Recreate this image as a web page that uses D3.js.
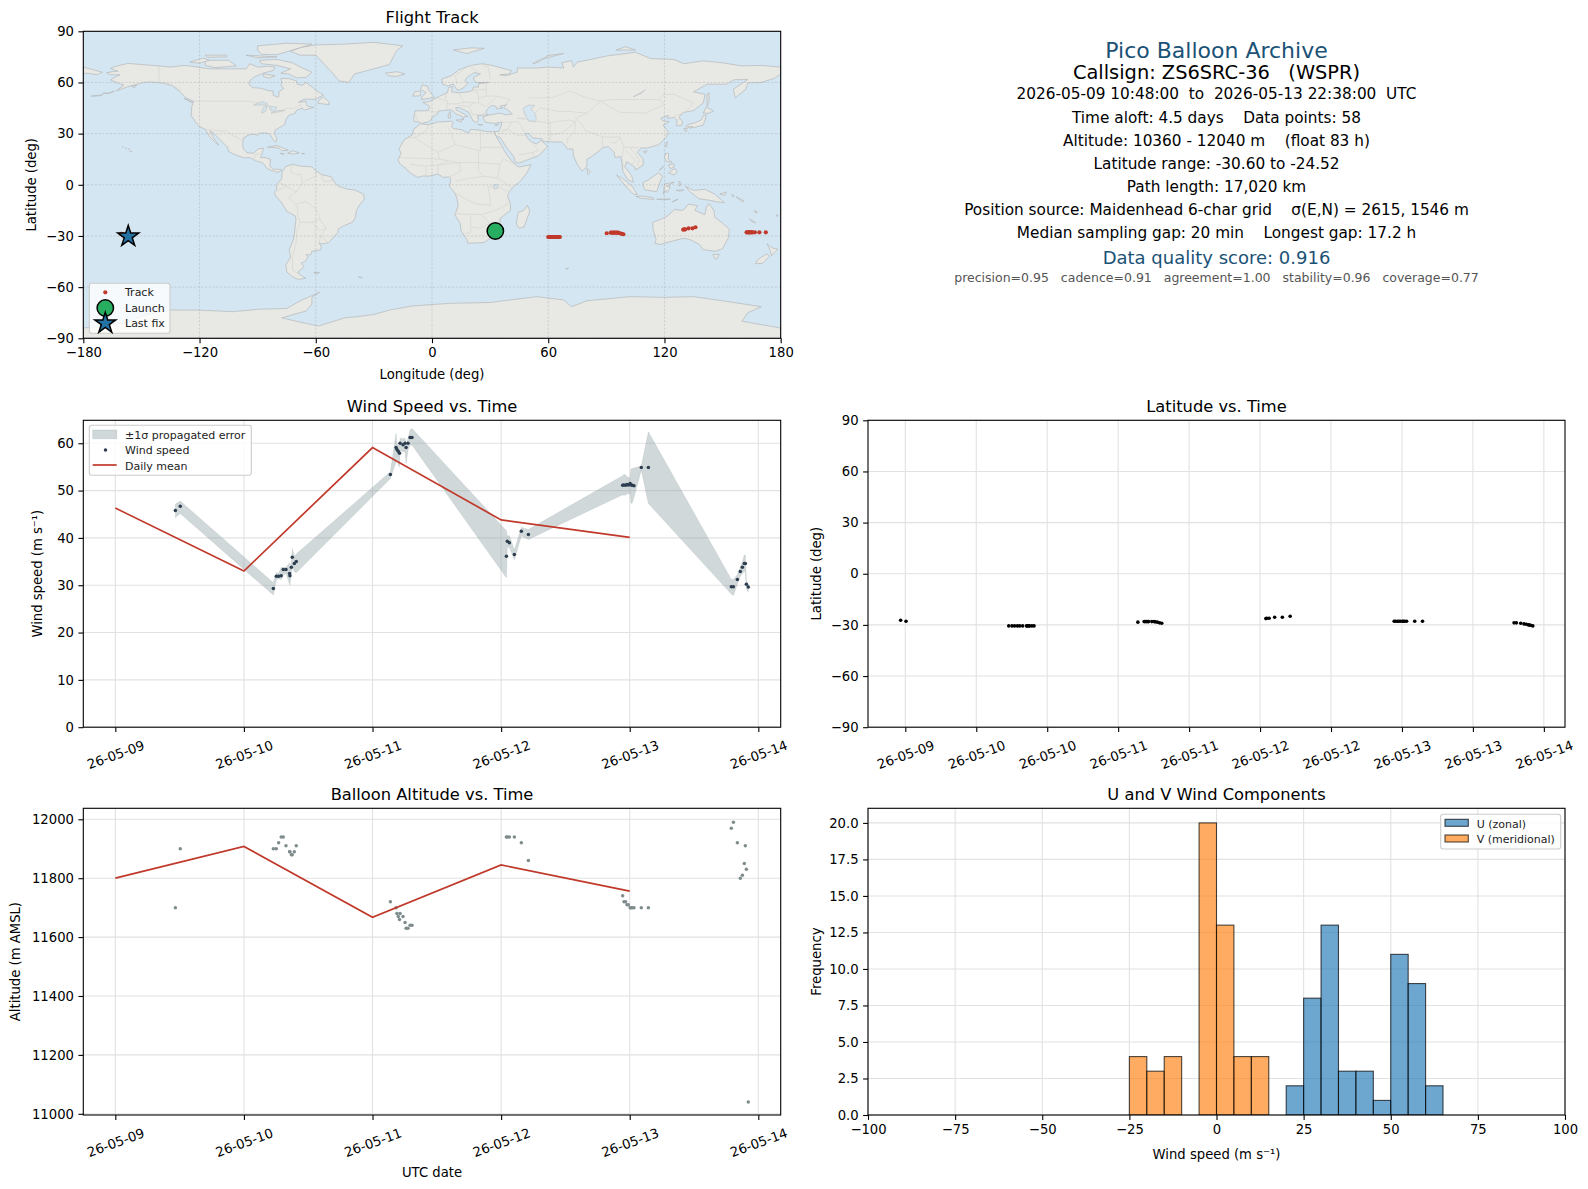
<!DOCTYPE html>
<html><head><meta charset="utf-8">
<script src="https://cdnjs.cloudflare.com/ajax/libs/d3/7.8.5/d3.min.js"></script>
<style>html,body{margin:0;padding:0;background:#fff}svg{display:block;font-family:"DejaVu Sans",sans-serif}</style>
</head><body><svg id="c" width="1588" height="1189"></svg>
<script>
// ---------- time (days since 26-05-09 00:00 UTC) ----------
const times=[0.467,0.505,
1.229,1.252,1.27,1.29,1.306,1.327,1.355,1.358,1.369,1.376,1.392,1.407,
2.139,2.183,2.19,2.2,2.21,2.214,2.237,2.253,2.261,2.276,2.292,2.307,
3.041,3.048,3.064,3.103,3.157,3.212,
3.945,3.955,3.968,3.979,3.989,4.003,4.01,4.02,4.033,4.09,4.145,
4.79,4.806,4.837,4.86,4.876,4.891,4.899,4.907,4.922];
const windSpeed=[45.8,46.7,
29.3,31.9,31.9,32.0,33.3,33.3,32.5,32.0,33.8,35.9,34.6,35.0,
53.4,59.1,58.7,58.3,57.9,60.0,59.7,60.0,59.1,60.0,61.2,61.2,
36.1,39.3,39.0,36.5,41.4,40.7,
51.1,51.2,51.1,51.3,51.2,51.5,51.2,51.1,51.0,54.9,54.9,
29.7,29.7,31.2,32.9,33.8,34.6,34.6,30.2,29.6];
const windUpper=[47.15,47.78,
30.52,32.63,32.49,33.76,33.76,33.76,34.75,33.19,34.96,37.78,36.15,36.58,
53.98,62.09,59.97,59.62,59.27,61.03,61.03,61.03,59.97,61.03,62.79,63.14,
41.51,40.38,40.52,37.42,42.22,41.79,
53.14,53.42,53.28,52.93,52.79,52.57,54.55,54.69,54.76,55.18,62.44,
31.22,31.22,32.21,33.9,34.96,36.37,36.37,30.94,30.23];
const windLower=[44.33,45.17,
27.91,31.08,31.36,31.22,32.14,32.49,30.16,30.02,32.49,33.9,32.84,32.63,
52.57,56.1,57.5,55.39,55.04,58.42,58.21,58.21,55.74,58.56,59.62,59.62,
31.57,38.0,38.0,35.31,40.38,39.68,
49.12,48.98,49.12,49.26,49.4,49.26,47.29,47.43,48.56,54.34,47.29,
28.12,27.84,30.23,31.93,32.49,32.91,32.91,29.32,28.54];
const meanDays=[0,1,2,3,4];
const windMean=[46.3,33.0,59.1,43.8,40.1];
const altitude=[11700,11900,
11900,11900,11920,11940,11940,11910,11890,11890,11880,11880,11890,11910,
11720,11700,11680,11670,11660,11680,11670,11650,11630,11630,11640,11640,
11940,11940,11940,11940,11920,11860,
11740,11720,11720,11710,11710,11700,11700,11700,11700,11700,11700,
11970,11990,11920,11800,11810,11850,11910,11830,11040];
const altMean=[11800,11908,11667,11845,11756];
const latitude=[-27.3,-27.85,
-30.6,-30.6,-30.6,-30.6,-30.6,-30.6,-30.6,-30.6,-30.6,-30.6,-30.6,-30.6,
-28.4,-28.05,-28.05,-28.05,-28.05,-28.05,-28.05,-28.05,-28.2,-28.4,-28.8,-29.0,
-26.3,-26.1,-26.1,-25.5,-25.5,-24.9,
-27.85,-27.85,-27.85,-27.85,-27.85,-27.85,-27.85,-27.85,-27.85,-27.85,-27.85,
-28.8,-28.8,-29.0,-29.4,-29.6,-30.0,-30.1,-30.2,-30.6];
const longitude=[32.7,34,
60,60.6,61.1,61.7,62.2,62.8,63.3,63.9,64.4,64.9,65.5,66,
90.2,92.3,92.9,93.5,94,94.6,95.2,95.8,96.4,97,98,98.8,
129.7,130.2,130.8,132.5,134.5,136,
162.4,162.8,163.2,163.7,164.1,164.6,165,165.5,166.7,169,172.3,
-160.5,-160.2,-159.9,-159.6,-159.1,-158.6,-158.2,-157.6,-156.8];
const launchFix=[32.7,-27.1];
const lastFix=[-156.8,-30.3];

// ---------- histogram ----------
const uEdges=[20,25,30,35,40,45,50,55,60,65];
const uCounts=[2,8,13,3,3,1,11,9,2];
const vEdges=[-25,-20,-15,-10,-5,0,5,10,15];
const vCounts=[4,3,4,0,20,13,4,4];

// ---------- tick labels ----------
const lonTicks=[-180,-120,-60,0,60,120,180];
const latTicksMap=[-90,-60,-30,0,30,60,90];
const dayTicks=[0,1,2,3,4,5];
const dayLabels=["26-05-09","26-05-10","26-05-11","26-05-12","26-05-13","26-05-14"];
const halfDayTicks=[0.5,1,1.5,2,2.5,3,3.5,4,4.5,5];
const halfDayLabels=["26-05-09","26-05-10","26-05-10","26-05-11","26-05-11","26-05-12","26-05-12","26-05-13","26-05-13","26-05-14"];
const windTicks=[0,10,20,30,40,50,60];
const altTicks=[11000,11200,11400,11600,11800,12000];
const histXTicks=[-100,-75,-50,-25,0,25,50,75,100];
const histYTicks=[0,2.5,5,7.5,10,12.5,15,17.5,20];

// ---------- text ----------
const infoLines=[
 ["Pico Balloon Archive",22,"#1a5276",50.6],
 ["Callsign: ZS6SRC-36   (WSPR)",19.4,"#000",72.9],
 ["2026-05-09 10:48:00  to  2026-05-13 22:38:00  UTC",15.3,"#000",94.2],
 ["Time aloft: 4.5 days    Data points: 58",15.3,"#000",117.5],
 ["Altitude: 10360 - 12040 m    (float 83 h)",15.3,"#000",140.8],
 ["Latitude range: -30.60 to -24.52",15.3,"#000",163.6],
 ["Path length: 17,020 km",15.3,"#000",186.6],
 ["Position source: Maidenhead 6-char grid    σ(E,N) = 2615, 1546 m",15.3,"#000",209.6],
 ["Median sampling gap: 20 min    Longest gap: 17.2 h",15.3,"#000",232.8],
 ["Data quality score: 0.916",18,"#1a5276",257],
 ["precision=0.95   cadence=0.91   agreement=1.00   stability=0.96   coverage=0.77",12.5,"#555",277.5]
];

// ---------- world outline (lon, lat) ----------
const landPolys=[
[[-168,65.7],[-164,66.5],[-162,66.5],[-166,68.3],[-163,69.5],[-157,71.2],[-150,70.5],[-141,69.7],[-135,69],[-128,70],[-124,69.5],[-115,68],[-108,68],[-100,68],[-96,68],[-94,71],[-90,69],[-85,69.5],[-81,69],[-82,67],[-87,65.5],[-92,63],[-94,61],[-94.5,59],[-92.5,57],[-88,56.5],[-85,55.3],[-82,55],[-82,52.5],[-79.5,51.3],[-79,52],[-79,54.5],[-76.5,56.5],[-78,58.5],[-77.5,60],[-78,62.4],[-74,62.3],[-70,61],[-69.5,59],[-67,58.3],[-65,60],[-62,57.5],[-60,55.5],[-56,52.7],[-60,50.2],[-66,50.2],[-69,48.3],[-65,49],[-65,47],[-64,46],[-61,45.5],[-66,43.7],[-67,45],[-70,43.7],[-70.5,42],[-74,40.7],[-75.5,38],[-76,35.5],[-78,34],[-81,32],[-81.3,30],[-80,26.8],[-80.5,25.2],[-81.8,26],[-82.8,28],[-84,30],[-86,30.4],[-89,30.3],[-90,29.2],[-93,29.7],[-95,29],[-97.3,27.5],[-97.7,24],[-97.5,21.5],[-95.5,18.8],[-92,18.5],[-90.7,20],[-90,21],[-87,21.5],[-87.7,18.5],[-88.5,16],[-86,15.9],[-83.3,15],[-83.7,11],[-82,9],[-80,9.2],[-77.5,8.7],[-78.5,7.8],[-80,7.3],[-81.5,8],[-83,8.3],[-85.5,10],[-87.5,13],[-91,14],[-94,16],[-97,15.8],[-101,17.3],[-105,19.5],[-105.5,22],[-109,26],[-112.5,30],[-114.7,31.7],[-113,28],[-110,23.2],[-112,25],[-115,28.5],[-117,32.5],[-120.5,34.5],[-122.5,37.5],[-124.3,40.5],[-124,46],[-123,49],[-127,51],[-130,54.5],[-134,58],[-138,59.5],[-145,60.3],[-149,60],[-152,59],[-157,57.5],[-163,55],[-159,58.5],[-162,59.5],[-166,61.5],[-163,63.5],[-161,64.5],[-166,64.5]],
[[-73,78.2],[-68,76],[-60,76],[-55,70],[-51,65],[-48,61],[-43,60],[-40,65],[-30,68],[-22,70.5],[-20,75],[-18,79],[-15,81.5],[-30,83.5],[-45,82.5],[-60,82],[-68,80.5]],
[[-80,73.5],[-72,71.5],[-66,68],[-62,66],[-65,63],[-70,62.7],[-74,65],[-78,65.5],[-73,68],[-80,70],[-88,71],[-89,73]],
[[-117,73],[-105,73],[-101,69.7],[-112,68.7],[-117,70]],
[[-88,76.5],[-80,76.3],[-72,79],[-62,82.5],[-75,83],[-90,81.5],[-90,79]],
[[-125,72],[-118,74.3],[-115,73],[-120,71.3]],
[[-96,76],[-80,75],[-90,74.5]],
[[-117,76],[-106,76],[-106,75],[-116,74.8]],
[[-87,65],[-81,64],[-84,62.5],[-87,63.5]],
[[-59,47.8],[-53,47],[-53.5,49],[-56,51.5],[-58,50]],
[[-128,50.7],[-123.5,48.4],[-125,48.7]],
[[-85,22],[-80,23],[-74.2,20.3],[-77.5,19.9],[-79,21.5],[-83,22]],
[[-74.5,18.5],[-72,20],[-68.5,18.7],[-71,18]],
[[-78.3,18.4],[-76.3,18.2],[-77,17.8]],
[[-67.2,18.4],[-65.7,18.3],[-66,18]],
[[-156,19.6],[-155,19.6],[-155.6,19.1]],
[[-158.2,21.6],[-157.7,21.4],[-158,21.3]],
[[-159.8,22.2],[-159.3,22.1],[-159.5,21.9]],
[[-156.7,21],[-156,20.8],[-156.4,20.6]],
[[-176,52],[-172,52.5],[-170,52.8],[-172,52.1]],
[[-170,53.7],[-166,54],[-164,55],[-167,53.4]],
[[-155,57.7],[-152.5,58.3],[-153.5,57]],
[[-72,12],[-68,11],[-62,10.5],[-60,8.3],[-57,6],[-52,4.7],[-50,1],[-48,-1],[-44,-2.5],[-40,-3],[-35.3,-5.5],[-35,-8.5],[-37.5,-12],[-39,-15],[-39.5,-19],[-41,-22],[-45,-23.7],[-48.5,-26],[-48.5,-28],[-51,-31],[-53.5,-34],[-57,-34.7],[-58.3,-34],[-57,-36.5],[-57.7,-38.2],[-62,-39],[-62.5,-41],[-65,-41],[-64,-42.5],[-65.5,-45],[-67.5,-46],[-66,-48],[-69,-51],[-68.5,-52.5],[-65.2,-54.8],[-69,-55.5],[-72,-54],[-75,-51],[-75.5,-47],[-73,-42.5],[-73.7,-38],[-71.5,-32],[-71,-28],[-70.2,-20],[-70.5,-18.3],[-75,-15.5],[-78,-10],[-81,-6],[-81.3,-4.3],[-80,-2.5],[-80.5,0],[-78.7,2],[-77.5,4],[-77.5,7.3],[-75.5,10.7]],
[[-61,-51.5],[-58,-51.3],[-59,-52.2]],
[[-38,-54],[-36,-54.4],[-37,-54.6]],
[[-6,35.8],[-2,35.2],[3,36.8],[10,37.3],[11,36.8],[10,34],[11,33],[15,32.3],[19,30.3],[20,32.5],[25,32],[29,31],[32.3,31.2],[32.5,29.9],[34,26.5],[36,23],[37.3,20],[38.5,18],[40,15.5],[43,12],[43.3,11.5],[45,10.5],[51.2,11.8],[49,7],[46,2.5],[41.5,-1.7],[39.5,-5],[39,-7],[40.5,-11],[40.5,-15],[37,-18],[35,-20],[35.5,-24],[32.8,-26],[32.5,-28.5],[30,-31.3],[27,-33.8],[22,-34.2],[18.5,-34.2],[18,-32],[15,-27],[14.5,-22.5],[11.8,-17.5],[13.5,-12.5],[13,-8.5],[12,-5],[9,-1],[9.7,3.5],[8.5,4.7],[6,4.3],[3,6.3],[-2,5],[-4.5,5.2],[-7.5,4.4],[-11,6.7],[-13.5,9.5],[-16.7,12.5],[-17.5,14.7],[-16,18.5],[-17,21],[-14.5,26.3],[-10,29.5],[-9.5,32.5]],
[[49.3,-12],[50.5,-15.5],[47.5,-24.8],[45,-25.5],[43.5,-23],[44.5,-16],[47,-15.3]],
[[-9,37],[-9.5,38.8],[-8.8,43.3],[-2,43.5],[-1.2,46],[-4.7,48.4],[-1.5,48.7],[1.5,50.5],[4,52],[8,54],[8.5,57],[10.7,57.6],[10,54.5],[14,54],[19,54.5],[21,55.5],[21.5,57.5],[24,57.2],[24,59.3],[29.5,60],[23,60],[21.5,61.5],[21.5,63],[25,65],[22,65.8],[18,63],[17,61],[18.5,59.5],[16.5,57],[14,55.5],[12.7,56],[11,59],[8,58],[5.5,59],[5,62],[10,64],[14,67.5],[20,70],[26,71],[31,70],[41,67],[40,65],[35,64.5],[38,64],[44,66],[44,68.5],[54,68.5],[60,69],[68,68.5],[67,71.5],[72,72.8],[73,69],[75,72],[82,73.5],[90,75.5],[105,77.7],[113,74],[125,73.5],[130,71],[140,72.7],[150,71.5],[160,69.7],[170,70],[180,69],[180,65],[177,62.5],[170,60],[163,59.8],[162,56],[156.5,51],[155.5,56],[163,61.8],[156,61.6],[152,59],[142,59],[135,54.5],[141,53],[140,48],[135,43.5],[130,42.5],[127.5,39.8],[129.3,37],[129,35],[126.3,34.5],[126.5,37.5],[125,39.5],[121.5,39],[122,40.7],[118,39],[119,37.5],[122.5,37],[119.3,35],[122,31],[121,28],[117,23.5],[111,21.5],[108,21.7],[106,19],[109,15],[109,11.5],[105,8.7],[105,10],[102,12.5],[100.5,13.5],[99.5,10.5],[103,5.5],[104,1.5],[101,3],[98.5,8],[98,13],[97.5,16.5],[94.5,16],[94,19],[91,22.5],[88,21.7],[86.5,20],[82.3,16.5],[80,15],[80,11],[77.5,8],[75,12],[73,17],[72.7,21],[70,21],[69,22.5],[67,25],[61.5,25.2],[57.5,25.5],[56.7,27],[52,27.5],[50,30],[48,30],[49.5,27],[51.5,25],[54,24],[56.3,26],[59.7,22.5],[55,17],[52,15.8],[45,12.8],[43.2,13],[42,17],[39,21],[35,28],[34.3,27.8],[33,29],[32.5,30],[32.3,31.2],[34.5,31.3],[35.8,35],[36,36.8],[32,36],[27.5,36.7],[26.3,39.8],[29,40.8],[31,41.2],[35,42],[38,41],[41.5,41.5],[39,44],[37,45.2],[38.5,47],[35,46],[36.5,45],[33.5,44.5],[33,46],[30.7,46.5],[28.7,44.5],[27.7,42.5],[29,41.2],[26,40.7],[23.5,40.5],[24,38],[22.8,36.5],[21.2,37.5],[19.5,41],[19,42.5],[14,45.3],[12.3,45.3],[12.4,44],[16,41.8],[18.5,40],[16.7,40],[16,38],[15.7,40],[12.5,41.5],[10,44],[7,43.7],[3.2,43.2],[3,41.8],[0,39.5],[-0.5,38],[-2,36.8],[-5.5,36],[-7,37]],
[[-5.5,50],[1.3,51.2],[0,53],[-2,56],[-2,57.7],[-5,58.6],[-6,56],[-3,54],[-5,52]],
[[-10,52],[-6,52.2],[-6,55],[-9,54.5]],
[[-24,65.5],[-18,66.3],[-14,65],[-18.5,63.5],[-22.5,64]],
[[11,79],[20,80.3],[27,80],[18,77]],
[[52,71],[56,73.5],[68,77],[60,75.8],[55,72]],
[[95,79],[105,79],[100,81]],
[[12.5,38],[15.5,38.2],[15,36.8]],
[[8.3,41],[9.7,41],[9.5,39.2],[8.5,39]],
[[8.7,42.5],[9.5,43],[9.3,41.5]],
[[23.6,35.5],[26.2,35.2],[24.8,35]],
[[32.4,35],[34.5,35.6],[33.5,34.7]],
[[130.9,34],[135,33.5],[140,35],[141,38],[141.5,41],[140,40.5],[139,38],[136,36.5],[132,35.3]],
[[140,42],[141.5,45.5],[145.3,43.3],[143,42]],
[[130,33],[131.7,33],[131,31]],
[[132.5,34],[134.5,34.2],[133.5,33]],
[[142,46],[143,49],[143,54],[142,53],[142,48]],
[[120.2,23],[121.5,25.2],[121,22]],
[[109,19.5],[111,20],[110,18.3]],
[[120,16],[120.7,18.5],[122.2,18.3],[122,15],[124,13],[121,13.8]],
[[122,7],[125.5,9.7],[126.5,7.5],[125,5.8]],
[[117.2,8.4],[119.5,11],[119,10]],
[[122,11.7],[125,12.2],[125,10.5],[123,9.5]],
[[80,9.7],[81.8,7.5],[80.5,6]],
[[95.3,5.6],[98,4],[103.5,-1],[106,-5.8],[104,-5.5],[100.5,-1.5]],
[[105.3,-6.8],[108.5,-6.6],[114.5,-7.7],[114.5,-8.7],[108,-7.9]],
[[109,1.5],[111.5,2.7],[116.8,7],[119,5],[117.5,1],[116,-4],[110,-3],[109,-0.5]],
[[119.5,-5.5],[120,0.5],[125,1.5],[121,-0.8],[123,-1],[121.5,-4.7],[120.5,-3]],
[[127.5,2],[128.7,1],[127.8,-0.8]],
[[126,-3.2],[130,-3],[128,-3.8]],
[[131,-1],[135,-3.3],[141,-2.6],[146,-5.5],[151,-10.5],[147,-10],[143,-9],[138,-8.3],[133,-4]],
[[148.5,-5.5],[152,-4.2],[151,-6.2]],
[[154.8,-5.5],[156,-6.8],[155,-6.6]],
[[157,-7],[161,-9.5],[160,-10]],
[[166.5,-15],[168,-16],[167,-16.5]],
[[164,-20],[167,-22.3],[165,-21.5]],
[[177.5,-18],[178.5,-17.5],[178.5,-18.5]],
[[124,-10],[127,-8.4],[125,-9.5]],
[[116,-8.5],[120,-8.3],[123,-8.4],[120,-8.8]],
[[114,-22],[114,-26],[115.7,-32],[115,-34.3],[118,-35],[124,-33],[129,-31.6],[131,-31.5],[134,-32.5],[138,-35],[140,-38],[146,-39],[150,-37.5],[153,-31],[153.5,-26],[150,-22.5],[146,-19],[145.5,-15],[143,-11],[141.7,-13],[140.8,-17.5],[135.7,-15],[137,-12.2],[132.5,-11.3],[129.5,-15],[125,-14.5],[122,-18],[118,-20.3]],
[[145,-40.8],[148.3,-40.8],[147,-43.5],[146,-43.5]],
[[173,-34.5],[175.5,-37],[178.5,-37.7],[175.3,-41.6],[174.7,-39]],
[[172.7,-40.5],[174.3,-41.8],[170.7,-46],[167,-46.3],[168,-44]],
[[69,-49],[70.5,-49],[69.5,-49.7]],
[[-180,69],[-175,67.5],[-170,66],[-173,64.5],[-178,65.5],[-180,65]],
[[-180,-84],[-158,-81],[-150,-77],[-135,-73.4],[-120,-73.5],[-102.7,-74.4],[-90,-73],[-75,-72.5],[-68,-68],[-58,-63],[-62,-66],[-62,-70],[-65,-74],[-77.6,-78],[-70,-80],[-58.7,-82.8],[-45,-78],[-38.9,-77.4],[-30,-76],[-21.7,-73.4],[-10,-71],[9,-69.5],[30,-69],[54,-65.6],[68,-67.5],[72,-71.5],[80,-68],[102,-65.6],[120,-66],[135,-65.6],[150,-68],[170,-71.5],[163,-75],[160,-80],[180,-84],[180,-90],[-180,-90]]
];
const lakePolys=[
[[47,45],[50,46.8],[53,46.5],[51,44.5],[53,42],[53.8,39],[53.5,37],[50,37.3],[49,39],[47.5,43]],
[[-92,46.8],[-88,48.8],[-85,47.7],[-85,46.6],[-88,46.8]],
[[-88,42],[-87,45.5],[-85,46],[-86,43]],
[[-84,46],[-80,45.5],[-81.5,43],[-83.5,43.8]],
[[-83,42],[-79,42.8],[-76,43.6],[-79.5,43.6]],
[[31.8,0],[33.8,0.3],[33.8,-2],[32,-2.6]],
[[104,51.6],[108,53.6],[110,55.7],[109,54.8]]
];
const borderLines=[
[[-141,69.6],[-141,60.3],[-135,59],[-130,55.5]],
[[-123,49],[-95,49],[-89,48],[-83,46],[-82.5,42],[-79,43],[-76,44.5],[-71,45],[-68,47],[-67,45]],
[[-117,32.5],[-108,31.5],[-106,31.7],[-103,29],[-97.3,26]],
[[-92,14.5],[-91,17.8],[-89,18]],
[[-72,12],[-73,8],[-70,6],[-67.5,6],[-67,1.5],[-70,-4.2],[-74,-7.5],[-70.5,-11],[-69,-15],[-69.5,-17.5],[-68,-22],[-70,-28],[-70,-33],[-72,-42],[-72,-50],[-68.5,-52.5]],
[[-60,8.3],[-60,5],[-67,1.5]],[[-57,6],[-56,2],[-52,2],[-52,4.7]],
[[-70,-11],[-65,-10],[-60,-14],[-58,-18],[-58,-20],[-62,-22],[-68,-22]],
[[-58,-20],[-54.5,-25.5],[-58,-27],[-62,-22]],[[-54.5,-25.5],[-57.5,-30.2],[-53.5,-33.8]],[[-57.5,-30.2],[-58.3,-34]],
[[-81,-4],[-75,-1],[-70,-4.2]],[[-78.7,1.5],[-75,-1]],
[[-9,27.7],[-3,31.5],[-2,35]],[[-13,27.7],[-9,27.7],[3,19],[12,23.5],[10,30],[8,34]],[[12,23.5],[25,20],[25,31.7]],[[25,22],[37,22]],
[[24,20],[24,8],[27,5],[34,4],[41,-1.7]],[[3,19],[4,15],[14,13],[15,8],[9,4.5]],[[-17,16],[-5,15.5],[4,15]],
[[-11.5,12],[-3,11],[3,11.5],[14,13]],[[14,13],[24,13]],[[12,2],[18,3.5],[27,5]],
[[12,-5],[22,-11],[30,-12],[30,-8],[29,-1.5],[34,-1],[40,-4.5]],[[12,-17],[25,-17.5],[33,-15],[40,-10.5]],
[[20,-18],[20,-28],[17,-28.5]],[[25,-17.5],[30,-22.5],[32,-26]],[[20,-24.7],[25,-25.5],[30,-22.5]],
[[35,12],[34,4]],[[24,13],[35,12],[37,15],[43,12]],[[3,11.5],[3,6.3]],[[-3,11],[-3,5]],[[8,14],[3,11.5]],
[[-9,42],[-7,37]],[[-1.8,43.4],[3,42.5]],[[2.5,51],[8,49],[7.5,44]],[[7,54],[7,50]],
[[14,54],[15,51],[17,48.5],[24,48],[24,51],[23.5,54],[21,55.5]],[[17,48.5],[13,47.5],[8,47.5]],[[13.5,46.5],[19,46],[22,48]],
[[24,48],[28,45.5]],[[19,46],[21,41],[26,41.5],[28,42]],[[28,52],[24,51]],[[28,46],[34,52],[40,50],[38,47]],
[[28,56],[28,52],[34,52]],[[28,60],[28,56],[21,55.5]],[[30,62],[29,69],[26,70]],[[24,66],[20,69]],[[13,59],[12,64],[18,69]],
[[47,42],[49,40]],[[44,39],[48,39]],[[44,37],[36,36.5]],[[44,37],[46,35],[48,30]],[[39,32.5],[44,29],[48,29]],
[[36,32],[39,32.5],[41,37]],[[34.5,29.5],[39,32.5]],[[45,17.5],[52,19],[55,20],[52,24]],[[52,19],[53,16.5]],
[[44,39],[48,38.5],[54,37],[61,36.5],[61,31],[61,25.5]],[[61,36.5],[66,37.3],[71,38],[74,37],[71,34],[66,30],[61,29.5]],
[[53,42],[56,45],[60,44],[66,43],[71,43],[80,42],[87,49]],[[50,51],[62,51],[71,55],[80,51],[87,49],[92,50],[98,50],[107,50],[117,50],[120,53],[125,53],[135,48],[131,43]],
[[87,49],[97,42.5],[110,42],[120,47],[117,50]],[[80,42],[74,39],[78,34.5],[79,32],[88,28],[97,28],[99,22],[102,22],[107,21.7]],
[[74,37],[74,32],[70,27],[70,24]],[[88,28],[88,22]],[[92,25],[95,24.5],[97,28]],[[99,22],[98,16],[99,10.5]],
[[102,22],[105,18],[107,15],[106,11]],[[100,20],[105,14.5],[103,11]],[[125,40],[130,42.5]],[[126,38],[128.5,38.5]]
];

// ---------- drawing ----------
const svg=d3.select("#c");
const defs=svg.append("defs");
const TICK=13.2, GRID="#e2e2e2", RED="#c0392b";
const minus=s=>String(s).replace("-","\u2212");
const P={map:[83.3,780.7,31.3,338.3],wind:[83.3,780.7,420.3,727.2],lat:[868,1565,420.3,727.2],alt:[83.3,780.7,808.3,1115],hist:[868,1565,808.3,1115]};
let clipN=0;
function panel(r,xd,yd,xt,yt,opts={}){
  const [l,ri,t,b]=r;
  const x=d3.scaleLinear().domain(xd).range([l,ri]);
  const y=d3.scaleLinear().domain(yd).range([b,t]);
  const g=svg.append("g");
  const id="clip"+(clipN++);
  defs.append("clipPath").attr("id",id).append("rect").attr("x",l).attr("y",t).attr("width",ri-l).attr("height",b-t);
  const bg=g.append("g");
  const grid=g.append("g");
  const dash=opts.gridDash||null;
  grid.selectAll("line.v").data(xt).join("line").attr("x1",d=>x(d)).attr("x2",d=>x(d)).attr("y1",t).attr("y2",b)
    .attr("stroke",opts.gridColor||GRID).attr("stroke-width",opts.gridW||1.1).attr("stroke-dasharray",dash);
  grid.selectAll("line.h").data(yt).join("line").attr("x1",l).attr("x2",ri).attr("y1",d=>y(d)).attr("y2",d=>y(d))
    .attr("stroke",opts.gridColor||GRID).attr("stroke-width",opts.gridW||1.1).attr("stroke-dasharray",dash);
  const marks=g.append("g").attr("clip-path",`url(#${id})`);
  const front=g.append("g");
  const ax=d3.axisBottom(x).tickValues(xt).tickSize(4.9).tickPadding(4.5).tickFormat(opts.xf||(d=>minus(d)));
  const ay=d3.axisLeft(y).tickValues(yt).tickSize(4.9).tickPadding(4.5).tickFormat(opts.yf||(d=>minus(d)));
  const gx=front.append("g").attr("transform",`translate(0,${b})`).call(ax);
  const gy=front.append("g").attr("transform",`translate(${l},0)`).call(ay);
  [gx,gy].forEach(a=>{a.select(".domain").remove();a.attr("font-family",null).attr("font-size",null);
    a.selectAll("line").attr("stroke","#000").attr("stroke-width",1.1);
    a.selectAll("text").attr("fill","#000").style("font-size",TICK+"px");});
  if(opts.rotate){gx.selectAll("text").attr("text-anchor","middle").attr("dy",null).attr("y",null)
    .attr("dominant-baseline","central").attr("transform","translate(0,27.7) rotate(-20)");}
  front.append("rect").attr("x",l).attr("y",t).attr("width",ri-l).attr("height",b-t).attr("fill","none").attr("stroke","#000").attr("stroke-width",1.1);
  svg.append("text").attr("x",(l+ri)/2).attr("y",t-8.3).attr("text-anchor","middle").style("font-size","16.3px").text(opts.title);
  return {x,y,g,bg,grid,marks,front};
}
function ylab(x,y,t){svg.append("text").attr("text-anchor","middle").attr("dominant-baseline","central").attr("transform",`translate(${x},${y}) rotate(-90)`).style("font-size",TICK+"px").text(t);}
function xlab(x,y,t){svg.append("text").attr("x",x).attr("y",y).attr("text-anchor","middle").attr("dominant-baseline","central").style("font-size",TICK+"px").text(t);}
function legendBox(par,x,y,w,h){par.append("rect").attr("x",x).attr("y",y).attr("width",w).attr("height",h).attr("rx",2.5).attr("fill","#fff").attr("fill-opacity",.8).attr("stroke","#ccc").attr("stroke-width",1.1);}
function legendText(par,x,y,t){par.append("text").attr("x",x).attr("y",y).attr("dominant-baseline","central").style("font-size","11px").attr("fill","#222").text(t);}
const star5=d3.symbol().type(d3.symbolStar);
function starPath(R){const pts=[];for(let i=0;i<10;i++){const a=-Math.PI/2+i*Math.PI/5,r=i%2?R*0.382:R;pts.push([r*Math.cos(a),r*Math.sin(a)]);}return "M"+pts.join("L")+"Z";}

// --- map ---
{
 const p=panel(P.map,[-180,180],[-90,90],lonTicks,latTicksMap,{title:"Flight Track",gridColor:"#9aa0a3",gridW:.6,gridDash:"2.2,1.6"});
 p.grid.attr("opacity",.55);
 p.bg.append("rect").attr("x",P.map[0]).attr("y",P.map[2]).attr("width",P.map[1]-P.map[0]).attr("height",P.map[3]-P.map[2]).attr("fill","#d4e6f1");
 const ln=d3.line().x(d=>p.x(d[0])).y(d=>p.y(d[1]));
 const landG=p.bg.append("g").attr("clip-path",`url(#clip0)`);
 landG.selectAll("path.l").data(landPolys).join("path").attr("d",d=>ln(d)+"Z").attr("fill","#e8e8e4").attr("stroke","#b4b8ba").attr("stroke-width",.7).attr("stroke-linejoin","round");
 landG.selectAll("path.w").data(lakePolys).join("path").attr("d",d=>ln(d)+"Z").attr("fill","#d4e6f1").attr("stroke","#b4b8ba").attr("stroke-width",.5);
 landG.selectAll("path.b").data(borderLines).join("path").attr("d",ln).attr("fill","none").attr("stroke","#d6d6d2").attr("stroke-width",.7);
 p.marks.selectAll("circle").data(longitude).join("circle").attr("cx",d=>p.x(d)).attr("cy",(d,i)=>p.y(latitude[i])).attr("r",2.1).attr("fill",RED);
 p.marks.append("circle").attr("cx",p.x(launchFix[0])).attr("cy",p.y(launchFix[1])).attr("r",8.2).attr("fill","#27ae60").attr("stroke","#000").attr("stroke-width",1.5);
 p.marks.append("path").attr("d",starPath(11)).attr("transform",`translate(${p.x(lastFix[0])},${p.y(lastFix[1])})`).attr("fill","#2471a3").attr("stroke","#000").attr("stroke-width",1.5);
 const lg=p.front.append("g");
 legendBox(lg,89.3,283.3,80.7,50);
 lg.append("circle").attr("cx",105.3).attr("cy",292.3).attr("r",2.1).attr("fill",RED);
 lg.append("circle").attr("cx",105.3).attr("cy",308).attr("r",8.2).attr("fill","#27ae60").attr("stroke","#000").attr("stroke-width",1.5);
 lg.append("path").attr("d",starPath(11)).attr("transform","translate(105.3,323.3)").attr("fill","#2471a3").attr("stroke","#000").attr("stroke-width",1.5);
 legendText(lg,125,292.3,"Track");legendText(lg,125,308,"Launch");legendText(lg,125,323.3,"Last fix");
 ylab(31.4,184.8,"Latitude (deg)");
 xlab(432,374,"Longitude (deg)");
}
// --- wind ---
{
 const xD=[-0.249,5.174];
 const p=panel(P.wind,xD,[0,64.85],dayTicks,windTicks,{title:"Wind Speed vs. Time",rotate:true,xf:(d,i)=>dayLabels[i]});
 const band=d3.area().x((d,i)=>p.x(times[i])).y0((d,i)=>p.y(windLower[i])).y1((d,i)=>p.y(windUpper[i]));
 p.marks.append("path").datum(times).attr("d",band).attr("fill","#95a5a6").attr("fill-opacity",.43).attr("stroke","#95a5a6").attr("stroke-opacity",.25).attr("stroke-width",.8);
 p.marks.selectAll("circle").data(windSpeed).join("circle").attr("cx",(d,i)=>p.x(times[i])).attr("cy",d=>p.y(d)).attr("r",1.75).attr("fill","#2c3e50");
 p.marks.append("path").datum(windMean).attr("d",d3.line().x((d,i)=>p.x(meanDays[i])).y(d=>p.y(d))).attr("fill","none").attr("stroke",RED).attr("stroke-width",1.7);
 const lg=p.front.append("g");
 legendBox(lg,89.3,425.3,162,50);
 lg.append("rect").attr("x",92.7).attr("y",430).attr("width",24).attr("height",8.7).attr("fill","#95a5a6").attr("fill-opacity",.43).attr("stroke","#95a5a6").attr("stroke-opacity",.25);
 lg.append("circle").attr("cx",105.5).attr("cy",450).attr("r",1.75).attr("fill","#2c3e50");
 lg.append("line").attr("x1",92.7).attr("x2",116.7).attr("y1",465).attr("y2",465).attr("stroke",RED).attr("stroke-width",1.7);
 legendText(lg,125,435.3,"±1σ propagated error");legendText(lg,125,450.3,"Wind speed");legendText(lg,125,466,"Daily mean");
 ylab(37.5,573.7,"Wind speed (m s⁻¹)");
}
// --- latitude ---
{
 const p=panel(P.lat,[0.237,5.149],[-90,90],halfDayTicks,latTicksMap,{title:"Latitude vs. Time",rotate:true,xf:(d,i)=>halfDayLabels[i]});
 p.marks.selectAll("circle").data(latitude).join("circle").attr("cx",(d,i)=>p.x(times[i])).attr("cy",d=>p.y(d)).attr("r",1.8).attr("fill","#000");
 ylab(816,573.7,"Latitude (deg)");
}
// --- altitude ---
{
 const yB=12000-(1115-819.3)/0.2945, yT=12000+(819.3-808.3)/0.2945;
 const p=panel(P.alt,[-0.249,5.174],[yB,yT],dayTicks,altTicks,{title:"Balloon Altitude vs. Time",rotate:true,xf:(d,i)=>dayLabels[i]});
 p.marks.selectAll("circle").data(altitude).join("circle").attr("cx",(d,i)=>p.x(times[i])).attr("cy",d=>p.y(d)).attr("r",1.75).attr("fill","#7f8c8d");
 p.marks.append("path").datum(altMean).attr("d",d3.line().x((d,i)=>p.x(meanDays[i])).y(d=>p.y(d))).attr("fill","none").attr("stroke",RED).attr("stroke-width",1.7);
 ylab(15.5,961.6,"Altitude (m AMSL)");
 xlab(432,1172,"UTC date");
}
// --- histogram ---
{
 const p=panel(P.hist,[-100,100],[0,21],histXTicks,histYTicks,{title:"U and V Wind Components",yf:d=>d.toFixed(1)});
 const bars=(counts,edges,color)=>{
  p.marks.append("g").selectAll("rect").data(counts).join("rect").filter(d=>d>0)
   .attr("x",(d,i)=>p.x(edges[i])).attr("width",(d,i)=>p.x(edges[i+1])-p.x(edges[i]))
   .attr("y",d=>p.y(d)).attr("height",d=>p.y(0)-p.y(d))
   .attr("fill",color).attr("fill-opacity",.65).attr("stroke","#000").attr("stroke-opacity",.7).attr("stroke-width",1.1);
 };
 const barsFix=(counts,edges,color)=>{
  const data=counts.map((c,i)=>({c,i})).filter(d=>d.c>0);
  p.marks.append("g").selectAll("rect").data(data).join("rect")
   .attr("x",d=>p.x(edges[d.i])).attr("width",d=>p.x(edges[d.i+1])-p.x(edges[d.i]))
   .attr("y",d=>p.y(d.c)).attr("height",d=>p.y(0)-p.y(d.c))
   .attr("fill",color).attr("fill-opacity",.65).attr("stroke","#000").attr("stroke-opacity",.7).attr("stroke-width",1.1);
 };
 barsFix(uCounts,uEdges,"#1f77b4");
 barsFix(vCounts,vEdges,"#ff7f0e");
 const lg=p.front.append("g");
 legendBox(lg,1440.7,814.3,120,34.7);
 lg.append("rect").attr("x",1445).attr("y",819.3).attr("width",23.3).attr("height",7).attr("fill","#1f77b4").attr("fill-opacity",.65).attr("stroke","#000").attr("stroke-opacity",.7).attr("stroke-width",1.1);
 lg.append("rect").attr("x",1445).attr("y",835).attr("width",23.3).attr("height",7).attr("fill","#ff7f0e").attr("fill-opacity",.65).attr("stroke","#000").attr("stroke-opacity",.7).attr("stroke-width",1.1);
 legendText(lg,1476.7,824,"U (zonal)");legendText(lg,1476.7,839,"V (meridional)");
 ylab(816,961.6,"Frequency");
 xlab(1216.5,1154.5,"Wind speed (m s⁻¹)");
}
// --- info block ---
svg.append("g").selectAll("text").data(infoLines).join("text").attr("x",1216.5).attr("y",d=>d[3])
 .attr("text-anchor","middle").attr("dominant-baseline","central").style("font-size",d=>d[1]+"px").style("white-space","pre").attr("xml:space","preserve").attr("fill",d=>d[2]).text(d=>d[0]);
</script></body></html>
